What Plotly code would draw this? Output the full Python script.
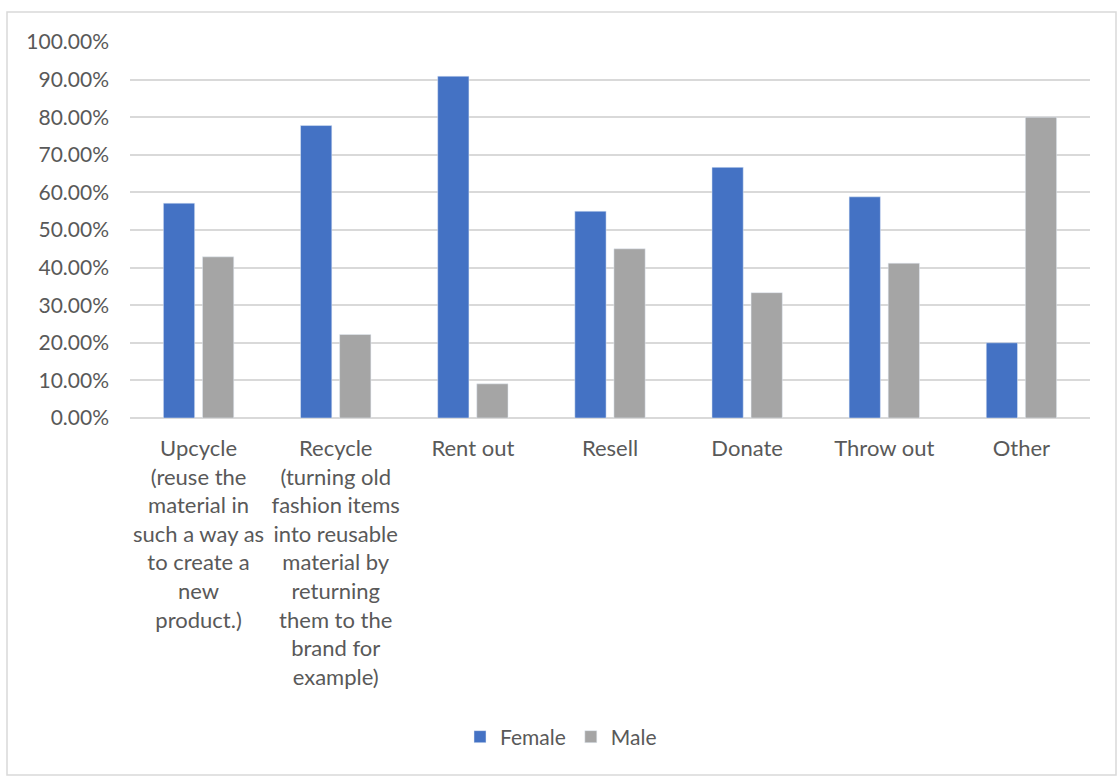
import plotly.graph_objects as go

categories = [
    "Upcycle<br>(reuse the<br>material in<br>such a way as<br>to create a<br>new<br>product.)",
    "Recycle<br>(turning old<br>fashion items<br>into reusable<br>material by<br>returning<br>them to the<br>brand for<br>example)",
    "Rent out",
    "Resell",
    "Donate",
    "Throw out",
    "Other",
]
female = [0.5714, 0.7778, 0.9091, 0.55, 0.6667, 0.5882, 0.20]
male = [0.4286, 0.2222, 0.0909, 0.45, 0.3333, 0.4118, 0.80]

FONT = "Lato"
TXT = "#595959"
GRID = "#D9D9D9"

fig = go.Figure()
fig.add_trace(go.Bar(name="Female", x=categories, y=female, marker_color="#4472C4"))
fig.add_trace(go.Bar(name="Male", x=categories, y=male, marker_color="#A5A5A5"))

L, R, T, B = 130, 29, 42, 364
W, H = 1119, 782
pw = W - L - R
ph = H - T - B

def px(x):
    return (x - L) / pw

def py(y):
    return (H - B - y) / ph

fig.update_layout(
    width=W, height=H,
    margin=dict(l=L, r=R, t=T, b=B),
    paper_bgcolor="white", plot_bgcolor="white",
    font=dict(family=FONT, size=21, color=TXT),
    barmode="group", bargap=0.43, bargroupgap=0.2,
    showlegend=True,
    legend=dict(orientation="h", x=px(561), y=py(737), xanchor="center", yanchor="middle",
                font=dict(family=FONT, size=21, color=TXT), itemwidth=30),
    xaxis=dict(showgrid=False, showline=False, ticks="", tickangle=0,
               tickfont=dict(family=FONT, size=22, color=TXT), ticklabelstandoff=15),
    yaxis=dict(range=[0, 1], dtick=0.1, tickformat=".2%", showgrid=True, gridcolor=GRID,
               gridwidth=1.5, zeroline=True, zerolinecolor=GRID, zerolinewidth=1.5,
               showline=False, ticks="", ticklabelstandoff=20,
               tickfont=dict(family=FONT, size=21, color=TXT)),
    shapes=[dict(type="rect", xref="paper", yref="paper",
                 x0=px(7), x1=px(1116), y0=py(775), y1=py(12),
                 line=dict(color=GRID, width=1.5), layer="below")],
)

fig.write_html("out.html")
